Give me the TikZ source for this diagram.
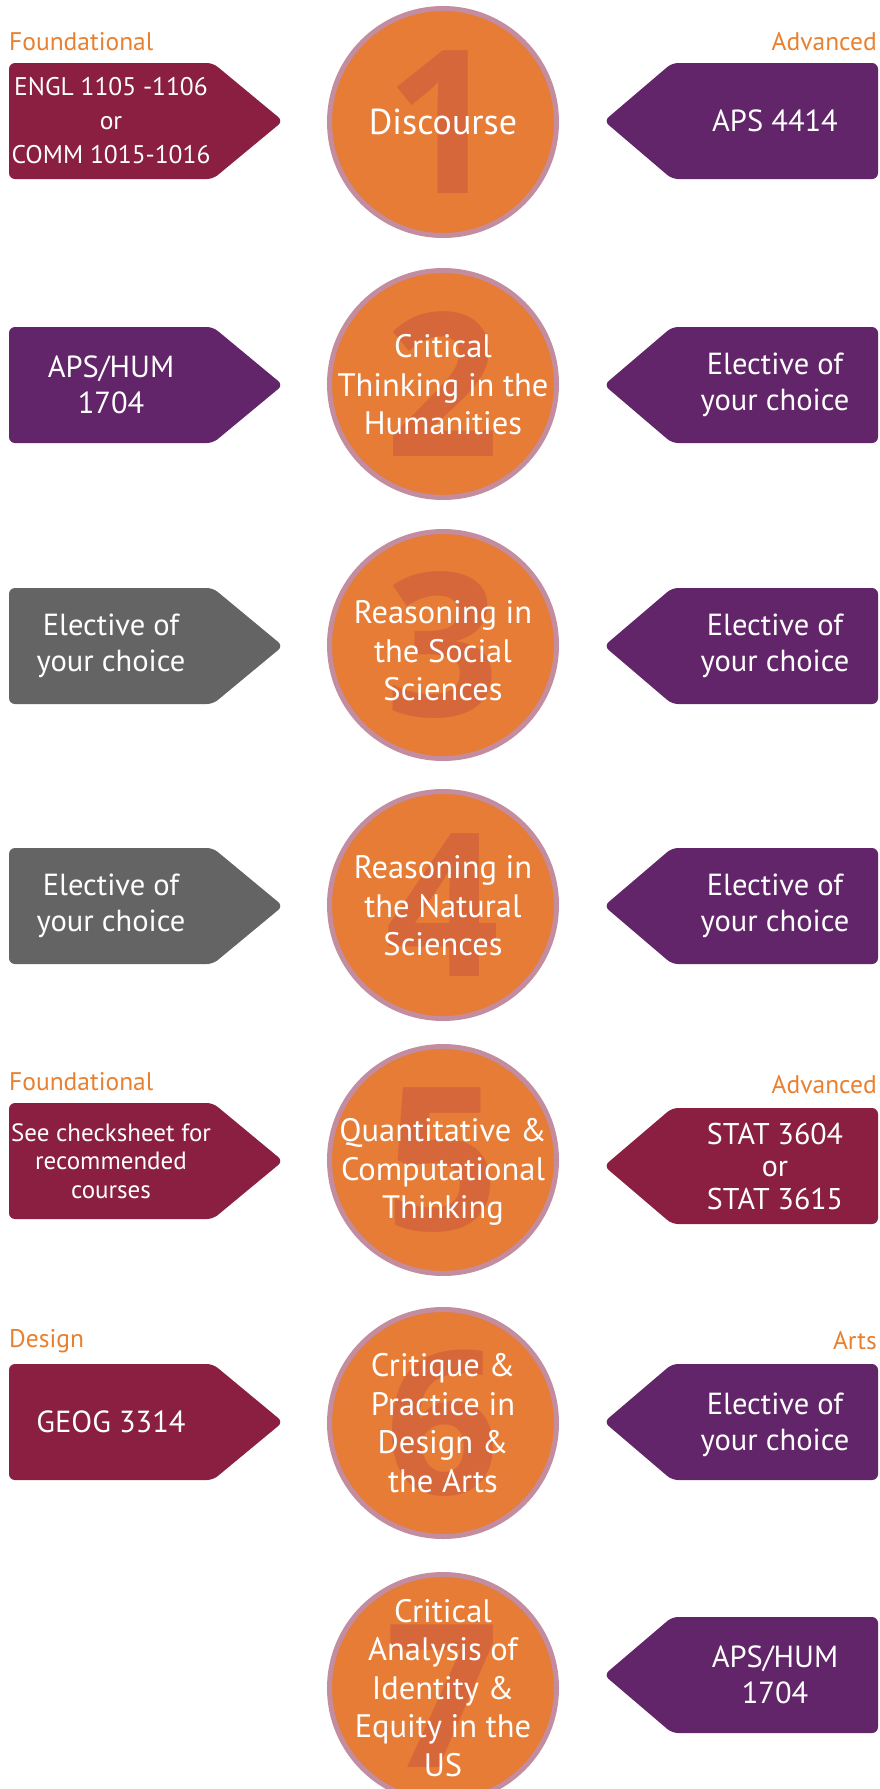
\documentclass[tikz,border=0pt]{standalone}
\usepackage{fontspec}
\setmainfont{PT Sans}
\newfontfamily\digitfont{Open Sans}
\definecolor{corange}{HTML}{E67C35}
\definecolor{cdigit}{HTML}{D6673A}
\definecolor{cborder}{HTML}{C38C9F}
\definecolor{cmaroon}{HTML}{8A1F42}
\definecolor{cpurple}{HTML}{63256A}
\definecolor{cgray}{HTML}{646464}
\definecolor{clabel}{HTML}{E9802F}
\tikzset{
  circ/.style={circle, fill=corange, draw=cborder, line width=5pt, minimum size=227pt, inner sep=0pt},
  digit/.style={text=cdigit, font=\digitfont\bfseries\fontsize{200}{200}\selectfont, inner sep=0pt},
  ctext/.style={text=white, align=center, font=\fontsize{32.5}{38.5}\selectfont, inner sep=0pt},
  atext/.style={text=white, align=center, font=\fontsize{30.5}{36.5}\selectfont, inner sep=0pt},
  lbl/.style={text=clabel, font=\fontsize{25.5}{28}\selectfont, inner sep=0pt},
  arrowshape/.style={rounded corners=6pt},
}
% left arrow: #1 colour, #2 centre y
\newcommand{\leftarr}[2]{\fill[#1, arrowshape] (9,#2-58) -- (213,#2-58) -- (283,#2) -- (213,#2+58) -- (9,#2+58) -- cycle;}
\newcommand{\rightarr}[2]{\fill[#1, arrowshape] (878,#2-58) -- (672,#2-58) -- (604,#2) -- (672,#2+58) -- (878,#2+58) -- cycle;}
\begin{document}
\begin{tikzpicture}[x=1pt, y=-1pt]
\useasboundingbox (0,0) rectangle (879,1789);
\fill[white] (0,0) rectangle (879,1789);

% ---------- Row 1 ----------
\node[lbl, anchor=west] (lf1) at (9,42) {Foundational};
\node[lbl, anchor=east] (la1) at (877,42) {Advanced};
\leftarr{cmaroon}{121}
\rightarr{cpurple}{121}
\node[circ] (c1) at (443,122) {};
\node[digit] (d1) at (443,122) {1};
\node[ctext, font=\fontsize{36}{40}\selectfont] (t1) at (443,122) {Discourse};
\node[text=white, align=center, font=\fontsize{25.5}{34}\selectfont, inner sep=0pt] (l1) at (111,121) {ENGL 1105 -1106\\or\\COMM 1015-1016};
\node[atext] (r1) at (775,121) {APS 4414};

% ---------- Row 2 ----------
\leftarr{cpurple}{385}
\rightarr{cpurple}{385}
\node[circ] (c2) at (443,384) {};
\node[digit] (d2) at (443,384) {2};
\node[ctext] (t2) at (443,385) {Critical\\Thinking in the\\Humanities};
\node[atext] (l2) at (111,385) {APS/HUM\\1704};
\node[atext] (r2) at (775,385) {Elective of\\your choice};

% ---------- Row 3 ----------
\leftarr{cgray}{646}
\rightarr{cpurple}{646}
\node[circ] (c3) at (443,645) {};
\node[digit] (d3) at (443,645) {3};
\node[ctext] (t3) at (443,651) {Reasoning in\\the Social\\Sciences};
\node[atext] (l3) at (111,646) {Elective of\\your choice};
\node[atext] (r3) at (775,646) {Elective of\\your choice};

% ---------- Row 4 ----------
\leftarr{cgray}{906}
\rightarr{cpurple}{906}
\node[circ] (c4) at (443,905) {};
\node[digit] (d4) at (443,905) {4};
\node[ctext] (t4) at (443,906) {Reasoning in\\the Natural\\Sciences};
\node[atext] (l4) at (111,906) {Elective of\\your choice};
\node[atext] (r4) at (775,906) {Elective of\\your choice};

% ---------- Row 5 ----------
\node[lbl, anchor=west] (lf5) at (9,1082) {Foundational};
\node[lbl, anchor=east] (la5) at (877,1085) {Advanced};
\leftarr{cmaroon}{1161}
\rightarr{cmaroon}{1166}
\node[circ] (c5) at (443,1160) {};
\node[digit] (d5) at (443,1160) {5};
\node[ctext] (t5) at (443,1172) {Quantitative \&\\Computational\\Thinking};
\node[text=white, align=center, font=\fontsize{25}{28.5}\selectfont, inner sep=0pt] (l5) at (111,1161) {See checksheet for\\recommended\\courses};
\node[text=white, align=center, font=\fontsize{30}{32.5}\selectfont, inner sep=0pt] (r5) at (775,1166) {STAT 3604\\or\\STAT 3615};

% ---------- Row 6 ----------
\node[lbl, anchor=west] (lf6) at (9,1341) {Design};
\node[lbl, anchor=east] (la6) at (877,1341) {Arts};
\leftarr{cmaroon}{1422}
\rightarr{cpurple}{1422}
\node[circ] (c6) at (443,1423) {};
\node[digit] (d6) at (443,1423) {6};
\node[ctext] (t6) at (443,1423) {Critique \&\\Practice in\\Design \&\\the Arts};
\node[atext] (l6) at (111,1422) {GEOG 3314};
\node[atext] (r6) at (775,1425) {Elective of\\your choice};

% ---------- Row 7 ----------
\rightarr{cpurple}{1675}
\node[circ] (c7) at (443,1688) {};
\node[digit] (d7) at (443,1696) {7};
\node[ctext] (t7) at (443,1688) {Critical\\Analysis of\\Identity \&\\Equity in the\\US};
\node[atext] (r7) at (775,1675) {APS/HUM\\1704};
\end{tikzpicture}
\end{document}
